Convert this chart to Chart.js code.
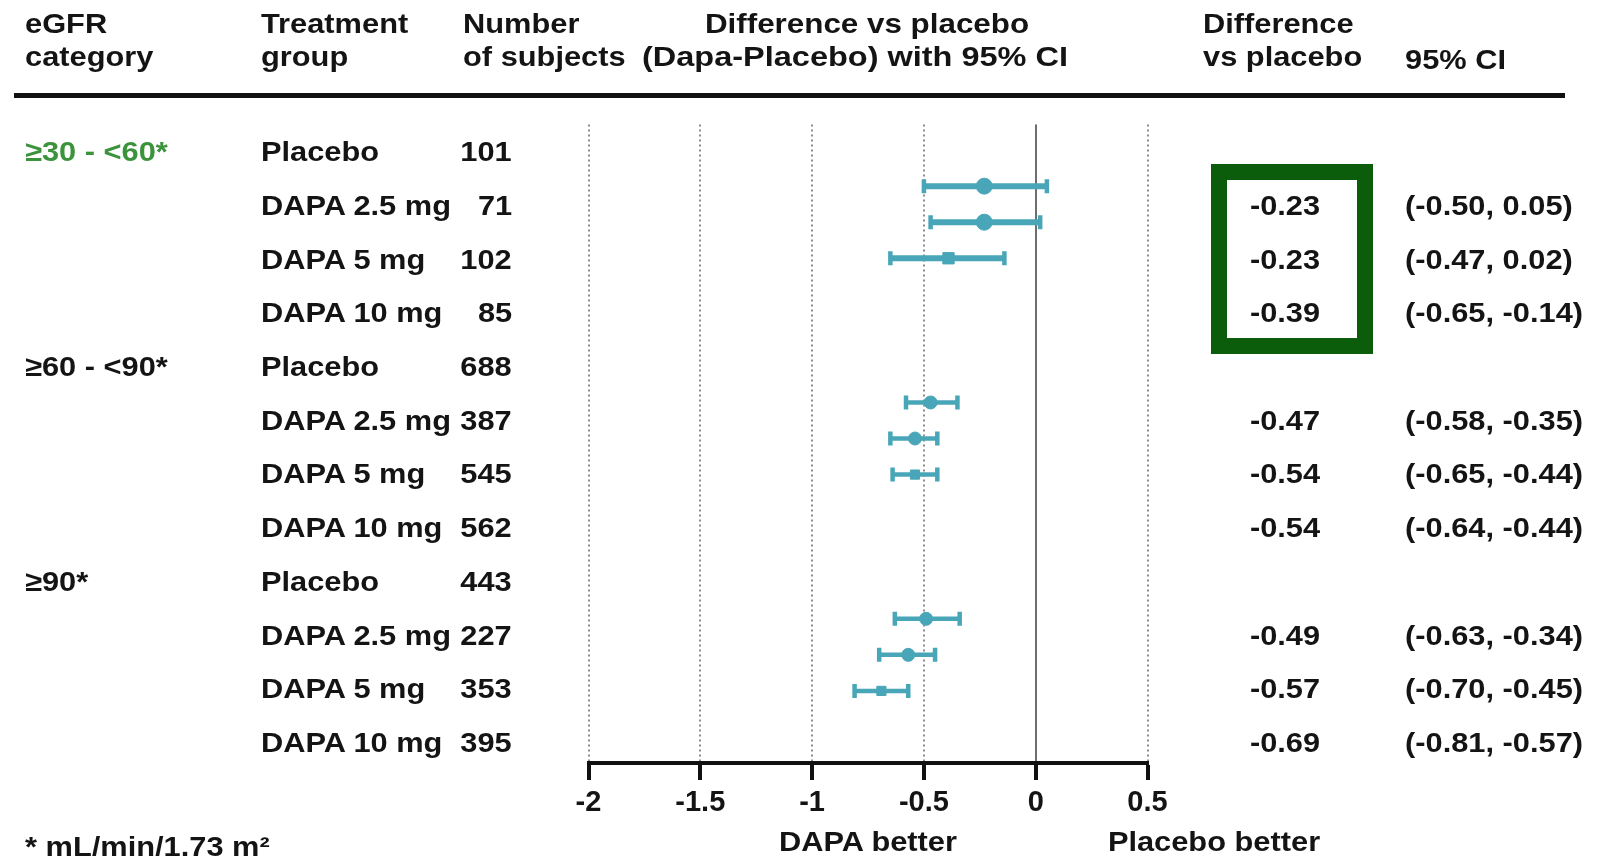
<!DOCTYPE html>
<html><head><meta charset="utf-8">
<script src="https://cdn.jsdelivr.net/npm/chart.js@4.4.1/dist/chart.umd.min.js"></script>
<style>
html,body{margin:0;padding:0;background:#fff;}
#wrap{position:relative;width:1598px;height:856px;overflow:hidden;background:#fff;}
canvas{position:absolute;left:0;top:0;}
.t{position:absolute;font-family:"Liberation Sans",Arial,sans-serif;font-weight:bold;font-size:28px;line-height:1;color:#141414;white-space:nowrap;}
</style></head><body>
<div id="wrap"><canvas id="c" width="1598" height="856"></canvas></div>
<script>
// ---- data ----
const eGFRCategories = ['≥30 - <60*', '≥60 - <90*', '≥90*'];
const treatmentGroups = ['Placebo', 'DAPA 2.5 mg', 'DAPA 5 mg', 'DAPA 10 mg'];
const subjects = [[101, 71, 102, 85], [688, 387, 545, 562], [443, 227, 353, 395]];
const diffVsPlacebo = [[-0.23, -0.23, -0.39], [-0.47, -0.54, -0.54], [-0.49, -0.57, -0.69]];
const ciLower = [[-0.50, -0.47, -0.65], [-0.58, -0.65, -0.64], [-0.63, -0.70, -0.81]];
const ciUpper = [[0.05, 0.02, -0.14], [-0.35, -0.44, -0.44], [-0.34, -0.45, -0.57]];
const xTickValues = [-2, -1.5, -1, -0.5, 0, 0.5];
const headerTexts = {
  cat: ['eGFR', 'category'], grp: ['Treatment', 'group'], num: ['Number', 'of subjects'],
  plot: ['Difference vs placebo', '(Dapa-Placebo) with 95% CI'], diff: ['Difference', 'vs placebo'], ci: '95% CI'
};
const footnote = '* mL/min/1.73 m²';
const sideLabels = ['DAPA better', 'Placebo better'];

// ---- styles ----
const TEAL = '#48A6B8';
const FONT = '"Liberation Sans", Arial, sans-serif';
const SX = 1.1;
const wrap = document.getElementById('wrap');
function addText(str, x, y, align, color, sx) {
  const s = sx || SX;
  const d = document.createElement('div');
  d.className = 't';
  d.textContent = str;
  if (color) d.style.color = color;
  d.style.top = y + 'px';
  if (align === 'right') {
    d.style.right = (1598 - x) + 'px';
    d.style.transformOrigin = '100% 50%';
    d.style.transform = 'translateY(-50%) scaleX(' + s + ')';
  } else if (align === 'center') {
    d.style.left = x + 'px';
    d.style.transformOrigin = '50% 50%';
    d.style.transform = 'translate(-50%,-50%) scaleX(' + s + ')';
  } else {
    d.style.left = x + 'px';
    d.style.transformOrigin = '0 50%';
    d.style.transform = 'translateY(-50%) scaleX(' + s + ')';
  }
  wrap.appendChild(d);
  return d;
}
function fmt(v) { return v.toFixed(2); }

// header
const H1 = 23.5, H2 = 57;
addText(headerTexts.cat[0], 24.5, H1); addText(headerTexts.cat[1], 24.5, H2);
addText(headerTexts.grp[0], 261, H1); addText(headerTexts.grp[1], 261, H2);
addText(headerTexts.num[0], 463, H1); addText(headerTexts.num[1], 463, H2);
addText(headerTexts.plot[0], 867, H1, 'center', null, 1.12); addText(headerTexts.plot[1], 855, H2, 'center', null, 1.16);
addText(headerTexts.diff[0], 1203, H1); addText(headerTexts.diff[1], 1203, H2);
addText(headerTexts.ci, 1405, 60);
const rule = document.createElement('div');
rule.style.cssText = 'position:absolute;left:14px;top:93px;width:1551px;height:5px;background:#111;';
wrap.appendChild(rule);

// table rows
const rowY = i => 152.2 + 53.7 * i;
eGFRCategories.forEach((cat, g) => {
  treatmentGroups.forEach((tg, t) => {
    const y = rowY(g * 4 + t);
    if (t === 0) addText(cat, 24.5, y, 'left', g === 0 ? '#3b933b' : null);
    addText(tg, 261, y);
    addText(String(subjects[g][t]), 512, y, 'right');
    if (t > 0) {
      addText(fmt(diffVsPlacebo[g][t - 1]), 1285, y, 'center');
      addText('(' + fmt(ciLower[g][t - 1]) + ', ' + fmt(ciUpper[g][t - 1]) + ')', 1405, y);
    }
  });
});
// highlight box
const box = document.createElement('div');
box.style.cssText = 'position:absolute;left:1211px;top:164px;width:162px;height:190px;box-sizing:border-box;border:16px solid #0b5c0b;';
wrap.appendChild(box);

addText(footnote, 24.5, 847);
addText(sideLabels[0], 868, 842, 'center');
addText(sideLabels[1], 1214, 842, 'center');

// ---- chart ----
const slotOf = (g, k) => g * 6 + k + 1;
const shapes = ['circle', 'circle', 'rect'];
const datasets = [];
const estimates = [], estShapes = [], estRadius = [];
diffVsPlacebo.forEach((row, g) => {
  row.forEach((d, k) => {
    const s = slotOf(g, k);
    datasets.push({
      data: [{ x: ciLower[g][k], y: s }, { x: ciUpper[g][k], y: s }],
      showLine: true, borderColor: TEAL, borderWidth: g === 0 ? 6 : 4.5,
      pointStyle: 'line', rotation: 90, pointRadius: 7, pointHoverRadius: 7,
      pointBorderWidth: 4.5, pointBorderColor: TEAL, pointBackgroundColor: TEAL
    });
    estimates.push({ x: d, y: s });
    estShapes.push(shapes[k]);
    estRadius.push(g === 0 ? 8 : 6.5);
  });
});
datasets.push({
  data: estimates, pointStyle: estShapes, pointRadius: estRadius, pointHoverRadius: estRadius,
  backgroundColor: TEAL, borderColor: TEAL, borderWidth: 1, showLine: false
});

new Chart(document.getElementById('c'), {
  type: 'scatter',
  data: { datasets },
  options: {
    responsive: false, animation: false, devicePixelRatio: 1,
    layout: { padding: { left: 588.5, right: 1598 - 1147.5, top: 124.5, bottom: 0 } },
    plugins: { legend: { display: false }, tooltip: { enabled: false } },
    scales: {
      x: {
        type: 'linear', position: 'bottom', min: -2, max: 0.5,
        afterBuildTicks: s => { s.ticks = xTickValues.map(v => ({ value: v })); },
        afterFit: s => { s.height = 856 - 763; },
        grid: {
          color: c => (c.tick && c.tick.value === 0) ? '#6e6e6e' : '#8c8c8c',
          lineWidth: 2, drawTicks: true, tickLength: 17, tickWidth: 4, tickColor: '#111', tickBorderDash: []
        },
        border: { display: true, color: '#111', width: 4, dash: c => (c.tick && c.tick.value === 0) ? [] : [2, 3] },
        ticks: {
          color: '#141414', font: { family: FONT, weight: 'bold', size: 29 }, padding: 6,
          maxRotation: 0, autoSkip: false, callback: v => String(v)
        }
      },
      y: { type: 'linear', reverse: true, min: -0.71, max: 17, display: false }
    }
  }
});
</script>
</body></html>
